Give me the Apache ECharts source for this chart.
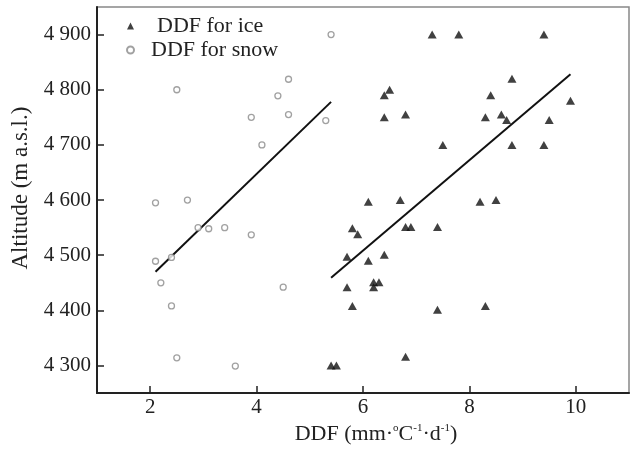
<!DOCTYPE html>
<html>
<head>
<meta charset="utf-8">
<script src="https://cdn.jsdelivr.net/npm/echarts@6/dist/echarts.min.js"></script>
<style>html,body{margin:0;padding:0;background:#fff;}#c{width:632px;height:450px;}</style>
</head>
<body>
<div id="c"></div>
<script>
// DDF for ice (x: DDF, y: altitude)
var iceDDF = [7.3, 7.8, 9.4, 8.8, 6.5, 6.4, 8.4, 9.9, 6.4, 6.8, 8.3, 8.6, 8.7, 9.5, 7.5, 8.8, 9.4,
              6.1, 6.7, 8.2, 8.5, 5.8, 5.9, 6.8, 6.9, 7.4, 5.7, 6.1, 6.4, 5.7, 6.2, 6.3, 6.2, 5.8, 7.4, 8.3, 6.8, 5.4, 5.5];
var iceAlt = [4900, 4900, 4900, 4820, 4800, 4790, 4790, 4780, 4750, 4755, 4750, 4755, 4745, 4745, 4700, 4700, 4700,
              4597, 4600, 4597, 4600, 4549, 4538, 4551, 4551, 4551, 4497, 4490, 4501, 4442, 4451, 4451, 4442, 4408, 4401, 4408, 4316, 4300, 4300];
// DDF for snow
var snowDDF = [5.4, 2.5, 4.6, 4.4, 3.9, 4.6, 5.3, 4.1, 2.1, 2.7, 2.9, 3.1, 3.4, 3.9, 2.1, 2.4, 2.2, 2.4, 4.5, 2.5, 3.6];
var snowAlt = [4900, 4800, 4819, 4789, 4750, 4755, 4744, 4700, 4595, 4600, 4550, 4548, 4550, 4537, 4489, 4496, 4450, 4408, 4442, 4314, 4299];
// regression lines (end points)
var snowFitX = [2.1, 5.4];
var snowFitY = [4470, 4778];
var iceFitX = [5.4, 9.9];
var iceFitY = [4459, 4828];
var xTicks = [2, 4, 6, 8, 10];
var yTicks = [4300, 4400, 4500, 4600, 4700, 4800, 4900];

function pairs(xs, ys) { return xs.map(function (x, i) { return [x, ys[i]]; }); }

var FONT = 'Liberation Serif';
var chart = echarts.init(document.getElementById('c'), null, {renderer: 'canvas'});
chart.setOption({
  animation: false,
  backgroundColor: '#fff',
  grid: {left: 97, right: 3, top: 7, bottom: 52, show: true, borderColor: '#888', borderWidth: 1.5, backgroundColor: 'transparent'},
  legend: {
    orient: 'vertical', left: 121, top: 10, itemGap: 2, itemWidth: 7, itemHeight: 7,
    textStyle: {fontFamily: FONT, fontSize: 22, color: '#222'},
    data: [
      {name: 'DDF for ice', textStyle: {padding: [0, 0, 0, 18]}},
      {name: 'DDF for snow', textStyle: {padding: [0, 0, 0, 12]}}
    ]
  },
  xAxis: {
    type: 'value', min: 1, max: 11, interval: 1,
    name: 'DDF (mm·{s|o}C{s|-1}·d{s|-1})', nameLocation: 'middle', nameGap: 24,
    nameTextStyle: {fontFamily: FONT, fontSize: 22, color: '#222', padding: [0, 0, 0, 26],
      rich: {s: {fontFamily: FONT, fontSize: 11, color: '#222', verticalAlign: 'top'}}},
    axisLine: {show: true, onZero: false, lineStyle: {color: '#222', width: 2}},
    axisTick: {show: true, inside: true, length: 7, lineStyle: {color: '#222', width: 1.5}, customValues: xTicks},
    axisLabel: {fontFamily: FONT, fontSize: 21, color: '#222', margin: 4, customValues: xTicks},
    splitLine: {show: false}
  },
  yAxis: {
    type: 'value', min: 4250, max: 4950, interval: 50,
    name: 'Altitude (m a.s.l.)', nameLocation: 'middle', nameGap: 64, nameRotate: 90,
    nameTextStyle: {fontFamily: FONT, fontSize: 23, color: '#222', padding: [0, 0, 0, 24]},
    axisLine: {show: true, onZero: false, lineStyle: {color: '#222', width: 2}},
    axisTick: {show: true, inside: true, length: 7, lineStyle: {color: '#222', width: 1.5}, customValues: yTicks},
    axisLabel: {fontFamily: FONT, fontSize: 21, color: '#222', margin: 6, customValues: yTicks,
      formatter: function (v) { var s = String(v); return s.slice(0, 1) + ' ' + s.slice(1); }},
    splitLine: {show: false}
  },
  series: [
    {name: 'DDF for ice', type: 'scatter', symbol: 'triangle', symbolSize: [9, 8],
     itemStyle: {color: '#111'}, data: pairs(iceDDF, iceAlt), z: 3},
    {name: 'DDF for snow', type: 'scatter', symbol: 'circle', symbolSize: 6,
     itemStyle: {color: '#fff', borderColor: '#8a8a8a', borderWidth: 1.3}, data: pairs(snowDDF, snowAlt), z: 3},
    {name: 'snowFit', type: 'line', data: pairs(snowFitX, snowFitY), symbol: 'none',
     lineStyle: {color: '#111', width: 2}, z: 2},
    {name: 'iceFit', type: 'line', data: pairs(iceFitX, iceFitY), symbol: 'none',
     lineStyle: {color: '#111', width: 2}, z: 2}
  ]
});
</script>
</body>
</html>
